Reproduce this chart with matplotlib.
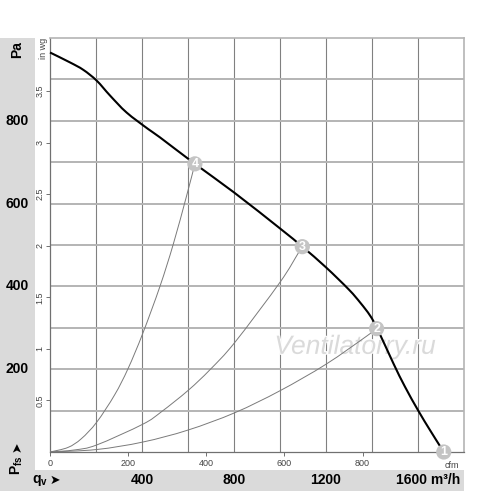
import matplotlib.pyplot as plt
import matplotlib.patheffects as pe
from matplotlib.transforms import blended_transform_factory
from matplotlib.patches import Rectangle, PathPatch
from matplotlib.path import Path

plt.rcParams['font.family'] = ['Liberation Sans', 'DejaVu Sans']

# fan curve: qv in m3/h, pfs in Pa
fan_q = [0, 87, 145, 203, 261, 333, 427, 478, 630, 800, 1000, 1097, 1200,
         1300, 1350, 1391, 1423, 1493, 1543, 1601, 1652, 1696, 1712]
fan_p = [965, 941, 923, 897, 861, 820, 780, 760, 696, 627, 540, 496, 446,
         392, 360, 330, 298, 214, 158, 100, 53, 14, 0]

# system curves ending at the operating points
sys4_q = [0, 78, 136, 203, 281, 339, 403, 478, 536, 594, 630]
sys4_p = [0, 11, 32, 72, 138, 201, 286, 400, 502, 619, 696]
sys3_q = [0, 107, 203, 403, 484, 601, 696, 804, 1000, 1080, 1097]
sys3_p = [0, 5, 17, 67, 97, 149, 199, 265, 410, 481, 496]
sys2_q = [0, 203, 403, 600, 804, 1000, 1200, 1377, 1420]
sys2_p = [0, 6, 24, 53, 95, 148, 212, 280, 298]

# operating points
pt_labels = ['1', '2', '3', '4']
pt_q = [1712, 1420, 1097, 630]
pt_p = [0, 298, 496, 696]

pa_ticks = [200, 400, 600, 800]
qv_ticks = [400, 800, 1200, 1600]
cfm_ticks = [0, 200, 400, 600, 800]
inwg_ticks = [0.5, 1, 1.5, 2, 2.5, 3, 3.5]


def smooth_path(xs, ys):
    # bezier path running through every read point (catmull-rom style)
    pts = list(zip(xs, ys))
    verts = [pts[0]]
    codes = [Path.MOVETO]
    n = len(pts)
    for i in range(n - 1):
        p0 = pts[i - 1] if i > 0 else pts[i]
        p1 = pts[i]
        p2 = pts[i + 1]
        p3 = pts[i + 2] if i + 2 < n else pts[i + 1]
        c1 = (p1[0] + (p2[0] - p0[0]) / 6, p1[1] + (p2[1] - p0[1]) / 6)
        c2 = (p2[0] - (p3[0] - p1[0]) / 6, p2[1] - (p3[1] - p1[1]) / 6)
        verts += [c1, c2, p2]
        codes += [Path.CURVE4] * 3
    return Path(verts, codes)


W, H = 500, 491
fig = plt.figure(figsize=(W / 100, H / 100), dpi=100)

# gray L shaped band
band = '#dadada'
fig.patches.append(Rectangle((0, 0), 35 / W, 1 - 38 / H, transform=fig.transFigure,
                             facecolor=band, edgecolor='none', zorder=-5))
fig.patches.append(Rectangle((0, 0), 464 / W, 21 / H, transform=fig.transFigure,
                             facecolor=band, edgecolor='none', zorder=-5))

ax = fig.add_axes([50 / W, 1 - 452 / H, 414 / W, 414 / H])
ax.set_xlim(0, 1800)
ax.set_ylim(0, 1000)
ax.set_facecolor('none')

for x in range(200, 1800, 200):
    ax.axvline(x, color='#808080', lw=0.8, zorder=1)
for y in range(100, 1000, 100):
    ax.axhline(y, color='#b4b4b4', lw=1.4, zorder=1)

ax.set_xticks([])
ax.set_yticks([])
for side in ['top', 'right']:
    ax.spines[side].set_color('#b4b4b4')
    ax.spines[side].set_linewidth(1.2)
for side in ['left', 'bottom']:
    ax.spines[side].set_color('#707070')
    ax.spines[side].set_linewidth(0.9)

# watermark
ax.text(1326, 254, 'Ventilatorry.ru', fontsize=19, style='italic',
        color='#dadada', ha='center', va='center', zorder=2,
        path_effects=[pe.withStroke(linewidth=1.5, foreground='white')])

for q, p in [(sys4_q, sys4_p), (sys3_q, sys3_p), (sys2_q, sys2_p)]:
    ax.add_patch(PathPatch(smooth_path(q, p), facecolor='none', edgecolor='#7a7a7a',
                           lw=0.7, zorder=3))
ax.add_patch(PathPatch(smooth_path(fan_q, fan_p), facecolor='none', edgecolor='black',
                       lw=1.5, zorder=4, clip_on=False))

ax.scatter(pt_q, pt_p, s=120, color='#c4c4c4', edgecolor='none', zorder=5, clip_on=False)
for lab, q, p in zip(pt_labels, pt_q, pt_p):
    ax.text(q, p, lab, color='white', fontsize=9, fontweight='bold',
            ha='center', va='center', zorder=6, clip_on=False)

# cfm axis
cfm = ax.secondary_xaxis('bottom', functions=(lambda v: v / 1.699, lambda v: v * 1.699))
cfm.set_xticks(cfm_ticks)
cfm.tick_params(length=3, width=0.7, color='#707070', labelsize=6.5,
                labelcolor='#444444', pad=2)
cfm.spines['bottom'].set_visible(False)
ax.text(1028 * 1.699, -22, 'cfm', fontsize=6.5, color='#444444',
        ha='center', va='top')

# in wg axis
inwg = ax.secondary_yaxis('left', functions=(lambda v: v / 249.09, lambda v: v * 249.09))
inwg.set_yticks(inwg_ticks)
inwg.set_yticklabels([f'{v:g}' for v in inwg_ticks], rotation=90, va='center')
inwg.tick_params(length=3, width=0.7, color='#707070', labelsize=6.5,
                 labelcolor='#444444', pad=1)
inwg.spines['left'].set_visible(False)
fig.text(43 / W, 1 - 48 / H, 'in wg', rotation=90, fontsize=6.5, color='#444444',
         ha='center', va='center')

# Pa labels in the band
ty = blended_transform_factory(fig.transFigure, ax.transData)
for v in pa_ticks:
    ax.text(17 / W, v, str(v), transform=ty, fontsize=10, fontweight='bold',
            ha='center', va='center')
fig.text(17 / W, 1 - 50 / H, 'Pa', rotation=90, fontsize=10, fontweight='bold',
         ha='center', va='center')
fig.text(17 / W, 1 - 465 / H, r'P$_{\mathregular{fs}}$', rotation=90, fontsize=10,
         fontweight='bold', ha='center', va='center')
fig.text(17 / W, 1 - 447 / H, '➤', rotation=90, fontsize=9, ha='center', va='center',
         family=['DejaVu Sans'])

# qv labels in the band
tx = blended_transform_factory(ax.transData, fig.transFigure)
for v in qv_ticks[:-1]:
    ax.text(v, 1 - 480 / H, str(v), transform=tx, fontsize=10, fontweight='bold',
            ha='center', va='center')
ax.text(1505, 1 - 480 / H, '1600 m³/h', transform=tx, fontsize=10, fontweight='bold',
        ha='left', va='center')
fig.text(32 / W, 1 - 480 / H, r'q$_{\mathregular{v}}$', fontsize=10, fontweight='bold',
         ha='left', va='center')
fig.text(50 / W, 1 - 480 / H, '➤', fontsize=9, ha='left', va='center',
         family=['DejaVu Sans'])

fig.savefig('out.png', dpi=100)
